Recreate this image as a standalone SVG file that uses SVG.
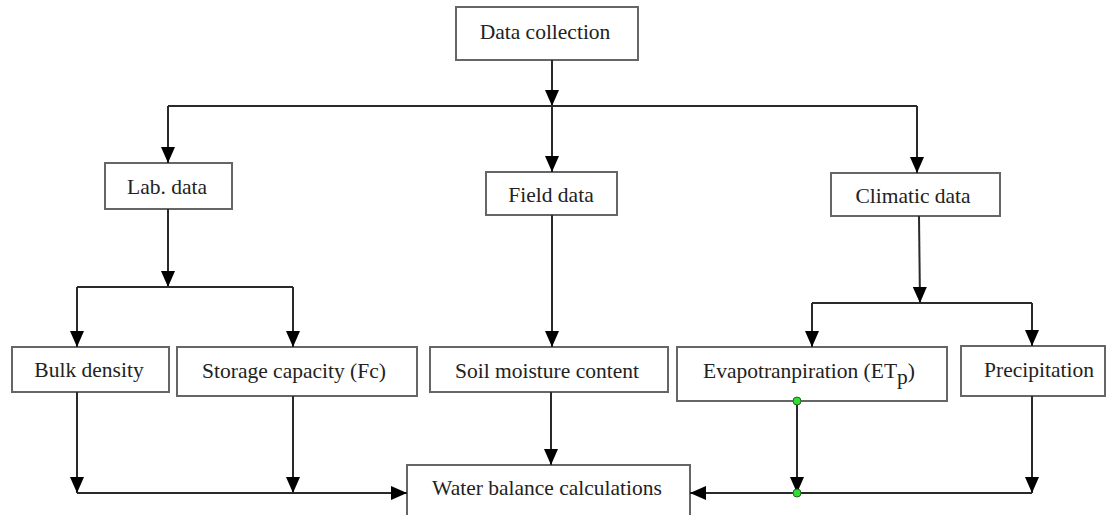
<svg xmlns="http://www.w3.org/2000/svg" width="1110" height="515" viewBox="0 0 1110 515">
<style>
.box{fill:#fff;stroke:#666;stroke-width:2}
.t{font-family:"Liberation Serif","Times New Roman",serif;font-size:21.5px;fill:#222;text-anchor:middle}
.c{stroke:#2a2a2a;stroke-width:2;fill:none}
.a{marker-end:url(#ah)}
.dot{fill:#33dd33;stroke:#226622;stroke-width:1}
</style>
<defs>
<marker id="ah" markerUnits="userSpaceOnUse" markerWidth="16" markerHeight="14" viewBox="0 0 16 14" refX="16" refY="7" orient="auto">
<path d="M0,0 L16,7 L0,14 z" fill="#000"/>
</marker>
</defs>
<rect width="1110" height="515" fill="#fff"/>
<g id="data-collection"><rect class="box" x="456" y="7" width="182" height="53"/><text class="t" x="545" y="39">Data collection</text></g>
<g id="lab-data"><rect class="box" x="105" y="163" width="127" height="46"/><text class="t" x="167" y="194">Lab. data</text></g>
<g id="field-data"><rect class="box" x="486" y="172" width="131" height="43"/><text class="t" x="551" y="202">Field data</text></g>
<g id="climatic-data"><rect class="box" x="831" y="173" width="169" height="43"/><text class="t" x="913" y="203">Climatic data</text></g>
<g id="bulk-density"><rect class="box" x="12" y="347" width="157" height="45"/><text class="t" x="89" y="377">Bulk density</text></g>
<g id="storage-capacity"><rect class="box" x="177" y="347" width="240" height="49"/><text class="t" x="294" y="378">Storage capacity (Fc)</text></g>
<g id="soil-moisture"><rect class="box" x="430" y="347" width="238" height="45"/><text class="t" x="547" y="378">Soil moisture content</text></g>
<g id="evapotranspiration"><rect class="box" x="677" y="347" width="270" height="54"/><text class="t" x="809" y="378">Evapotranpiration (ET<tspan dy="6">p</tspan><tspan dy="-6">)</tspan></text></g>
<g id="precipitation"><rect class="box" x="961" y="346" width="144" height="50"/><text class="t" x="1039" y="377">Precipitation</text></g>
<g id="water-balance"><rect class="box" x="407" y="465" width="283" height="60"/><text class="t" x="547" y="495">Water balance calculations</text></g>
<g id="connectors">
<path class="c a" d="M552,60 V106"/>
<path class="c" d="M168,106 H917"/>
<path class="c a" d="M168,106 V163"/>
<path class="c a" d="M552,106 V172"/>
<path class="c a" d="M917,106 V173"/>
<path class="c a" d="M168,209 V287"/>
<path class="c" d="M77,287 H293"/>
<path class="c a" d="M77,287 V347"/>
<path class="c a" d="M293,287 V347"/>
<path class="c a" d="M552,215 V347"/>
<path class="c a" d="M919,216 L920,303"/>
<path class="c" d="M812,303 H1032"/>
<path class="c a" d="M812,303 V347"/>
<path class="c a" d="M1032,303 V346"/>
<path class="c a" d="M77,392 V493"/>
<path class="c a" d="M293,396 V493"/>
<path class="c a" d="M77,493 H407"/>
<path class="c a" d="M551,392 V465"/>
<path class="c a" d="M797,401 V493"/>
<path class="c a" d="M1032,396 V493"/>
<path class="c a" d="M1032,493 H690"/>
<circle class="dot" cx="797" cy="401" r="4"/>
<circle class="dot" cx="797" cy="493" r="4"/>
</g>
</svg>
